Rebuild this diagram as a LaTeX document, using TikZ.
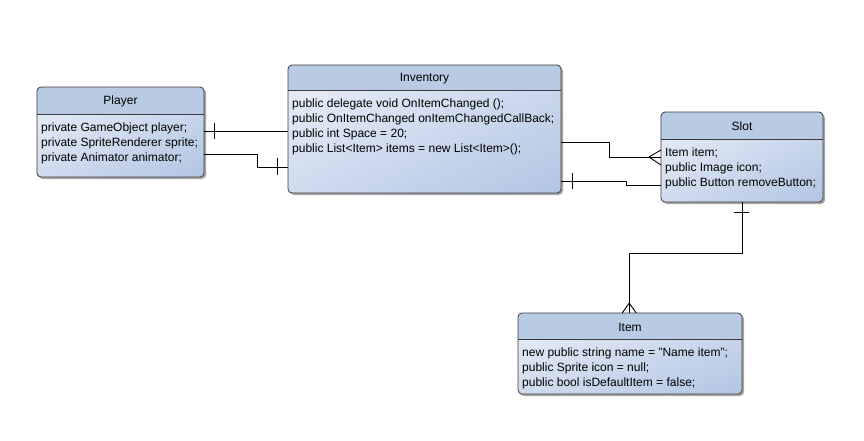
\documentclass[tikz,border=0pt]{standalone}
\usepackage{fontspec}
\setmainfont{Liberation Sans}
\usetikzlibrary{calc,shadings}
\definecolor{hdr}{RGB}{184,202,228}
\definecolor{bodylight}{RGB}{236,241,249}
\definecolor{bodymid}{RGB}{207,219,238}
\definecolor{bodydark}{RGB}{178,197,227}
\definecolor{edge}{RGB}{60,60,60}
\tikzset{
  classbox/.style={anchor=north west, inner sep=0pt, rectangle, rounded corners=4pt},
  classtitle/.style={font=\fontsize{12}{15}\selectfont, inner sep=0pt},
  members/.style={anchor=north west, font=\fontsize{12}{15}\selectfont, align=left, inner sep=0pt},
  rel/.style={draw=black, line width=0.9pt},
  tick/.style={draw=black, line width=0.9pt},
}
% \umlclass{name}{x}{y}{width}{height}{header height}{title}{members}
\newcommand\umlclass[8]{%
  \fill[black!35, rounded corners=4pt] (#2+2,#3+2) rectangle ++(#4,#5);
  \node[classbox, minimum width=#4pt, minimum height=#5pt] (#1) at (#2,#3) {};
  \begin{scope}
    \clip[rounded corners=4pt] (#2,#3) rectangle ++(#4,#5);
    \shade[upper left=bodylight, lower right=bodydark, upper right=bodymid, lower left=bodymid] (#2,#3) rectangle ++(#4,#5);
    \fill[hdr] (#2,#3) rectangle ++(#4,#6);
  \end{scope}
  \draw[edge, line width=0.8pt, rounded corners=4pt] (#2,#3) rectangle ++(#4,#5);
  \draw[edge, line width=0.8pt] (#2,#3+#6) -- ++(#4,0);
  \node[classtitle] (#1-title) at (#2+#4/2,#3+#6/2+1) {#7};
  \node[members] (#1-members) at (#2+4,#3+#6+9) {#8};
}
\begin{document}
\begin{tikzpicture}[x=1pt,y=-1pt]
\useasboundingbox (0,0) rectangle (864,440);
\fill[white] (0,0) rectangle (864,440);

\umlclass{player}{37}{87}{167}{90}{27}{Player}{private GameObject player;\\private SpriteRenderer sprite;\\private Animator animator;}
\umlclass{inventory}{288}{65}{273}{128}{25}{Inventory}{public delegate void OnItemChanged ();\\public OnItemChanged onItemChangedCallBack;\\public int Space = 20;\\public List<Item> items = new List<Item>();}
\umlclass{slot}{661}{112}{162}{90}{27}{Slot}{Item item;\\public Image icon;\\public Button removeButton;}
\umlclass{item}{518}{313}{224}{81}{26}{Item}{new public string name = "Name item";\\public Sprite icon = null;\\public bool isDefaultItem = false;}

% connection points on the class outlines
\coordinate (pA) at ([yshift=-44pt]player.north east);
\coordinate (pB) at ([yshift=-67pt]player.north east);
\coordinate (iA) at ([yshift=-66pt]inventory.north west);
\coordinate (iB) at ([yshift=-102pt]inventory.north west);
\coordinate (iC) at ([yshift=-77pt]inventory.north east);
\coordinate (iD) at ([yshift=-116pt]inventory.north east);
\coordinate (sA) at ([yshift=-45pt]slot.north west);
\coordinate (sB) at ([yshift=-73pt]slot.north west);
\coordinate (sS) at (slot.south);
\coordinate (tN) at ([xshift=-1pt]item.north);

% Player -- Inventory
\draw[rel] (pA) -- (iA);
\draw[tick] ($(pA)+(10,-8)$) -- ($(pA)+(10,8)$);
\draw[rel] (pB) -- ++(53,0) |- (iB);
\draw[tick] ($(iB)+(-11,-9)$) -- ($(iB)+(-11,8)$);

% Inventory -- Slot (one to many)
\draw[rel] (iC) -- ++(48,0) |- (sA);
\draw[tick] ($(sA)+(-12,0)$) -- ($(sA)+(0,-7)$);
\draw[tick] ($(sA)+(-12,0)$) -- ($(sA)+(0,8)$);

% Inventory -- Slot (one to one)
\draw[rel] (iD) -- ++(65,0) |- (sB);
\draw[tick] ($(iD)+(11,-8)$) -- ($(iD)+(11,8)$);

% Slot -- Item (one to many)
\draw[rel] (sS) -- ++(0,51) -| (tN);
\draw[tick] ($(sS)+(-8,10)$) -- ($(sS)+(7,10)$);
\draw[tick] ($(tN)+(0,-10)$) -- ($(tN)+(-7,0)$);
\draw[tick] ($(tN)+(0,-10)$) -- ($(tN)+(7,0)$);
\end{tikzpicture}
\end{document}
